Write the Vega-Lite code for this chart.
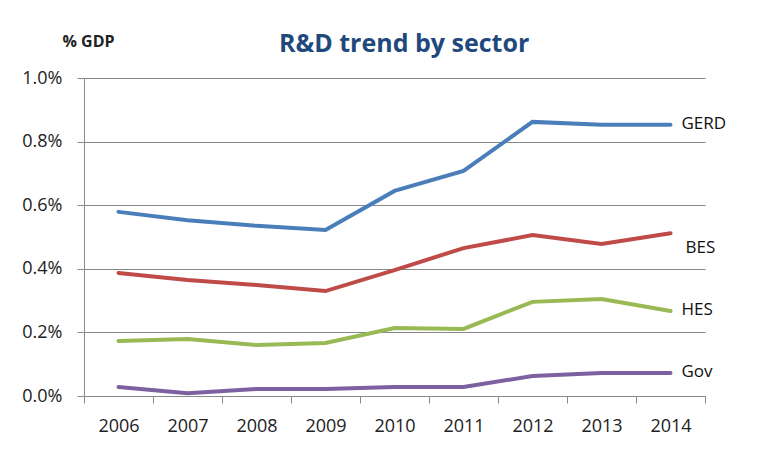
{
  "$schema": "https://vega.github.io/schema/vega-lite/v6.json",
  "width": 621,
  "height": 318,
  "autosize": {"type": "none"},
  "padding": {"left": 84, "top": 78, "right": 52, "bottom": 61},
  "background": "white",
  "config": {
    "view": {"stroke": null},
    "font": "Open Sans"
  },
  "title": {
    "text": "R&D trend by sector",
    "anchor": "start",
    "frame": "group",
    "dx": 195,
    "dy": 44,
    "offset": 0,
    "baseline": "alphabetic",
    "font": "Open Sans",
    "fontSize": 25,
    "fontWeight": "bold",
    "color": "#1F497D"
  },
  "data": {
    "values": [
      {"year": "2006", "sector": "GERD", "value": 0.00579},
      {"year": "2007", "sector": "GERD", "value": 0.00553},
      {"year": "2008", "sector": "GERD", "value": 0.00535},
      {"year": "2009", "sector": "GERD", "value": 0.00522},
      {"year": "2010", "sector": "GERD", "value": 0.00645},
      {"year": "2011", "sector": "GERD", "value": 0.00708},
      {"year": "2012", "sector": "GERD", "value": 0.00862},
      {"year": "2013", "sector": "GERD", "value": 0.00853},
      {"year": "2014", "sector": "GERD", "value": 0.00853},
      {"year": "2006", "sector": "BES", "value": 0.00387},
      {"year": "2007", "sector": "BES", "value": 0.00365},
      {"year": "2008", "sector": "BES", "value": 0.00349},
      {"year": "2009", "sector": "BES", "value": 0.0033},
      {"year": "2010", "sector": "BES", "value": 0.00396},
      {"year": "2011", "sector": "BES", "value": 0.00465},
      {"year": "2012", "sector": "BES", "value": 0.00506},
      {"year": "2013", "sector": "BES", "value": 0.00478},
      {"year": "2014", "sector": "BES", "value": 0.00512},
      {"year": "2006", "sector": "HES", "value": 0.00173},
      {"year": "2007", "sector": "HES", "value": 0.00179},
      {"year": "2008", "sector": "HES", "value": 0.0016},
      {"year": "2009", "sector": "HES", "value": 0.00167},
      {"year": "2010", "sector": "HES", "value": 0.00214},
      {"year": "2011", "sector": "HES", "value": 0.00211},
      {"year": "2012", "sector": "HES", "value": 0.00296},
      {"year": "2013", "sector": "HES", "value": 0.00305},
      {"year": "2014", "sector": "HES", "value": 0.00267},
      {"year": "2006", "sector": "Gov", "value": 0.00028},
      {"year": "2007", "sector": "Gov", "value": 0.00009},
      {"year": "2008", "sector": "Gov", "value": 0.00022},
      {"year": "2009", "sector": "Gov", "value": 0.00022},
      {"year": "2010", "sector": "Gov", "value": 0.00028},
      {"year": "2011", "sector": "Gov", "value": 0.00028},
      {"year": "2012", "sector": "Gov", "value": 0.00063},
      {"year": "2013", "sector": "Gov", "value": 0.00072},
      {"year": "2014", "sector": "Gov", "value": 0.00072}
    ]
  },
  "encoding": {
    "x": {
      "field": "year",
      "type": "ordinal",
      "scale": {"paddingInner": 0, "paddingOuter": 0},
      "axis": {
        "title": null,
        "labelAngle": 0,
        "tickBand": "extent",
        "tickSize": 7,
        "tickColor": "#888888",
        "domainColor": "#888888",
        "labelFont": "Open Sans",
        "labelFontSize": 18,
        "labelColor": "#222222",
        "labelPadding": 14,
        "grid": false
      }
    },
    "y": {
      "field": "value",
      "type": "quantitative",
      "scale": {"domain": [0, 0.01], "nice": false},
      "axis": {
        "values": [0, 0.002, 0.004, 0.006, 0.008, 0.01],
        "format": ".1%",
        "title": "% GDP",
        "titleAngle": 0,
        "titleX": -22,
        "titleY": -32,
        "titleAlign": "left",
        "titleBaseline": "alphabetic",
        "titleFont": "Open Sans",
        "titleFontSize": 16,
        "titleFontWeight": "bold",
        "titleColor": "#222222",
        "tickSize": 7,
        "tickColor": "#888888",
        "domainColor": "#888888",
        "gridColor": "#888888",
        "gridOpacity": 1,
        "labelFont": "Open Sans",
        "labelFontSize": 18,
        "labelColor": "#222222",
        "labelPadding": 15
      }
    },
    "color": {
      "field": "sector",
      "type": "nominal",
      "scale": {
        "domain": ["GERD", "BES", "HES", "Gov"],
        "range": ["#4A7EBB", "#BE4B48", "#98B954", "#7D60A0"]
      },
      "legend": null
    }
  },
  "layer": [
    {
      "mark": {"type": "line", "strokeWidth": 4, "strokeCap": "round"}
    },
    {
      "transform": [{"filter": "datum.year == '2014' && datum.sector != 'BES'"}],
      "mark": {"type": "text", "align": "left", "baseline": "middle", "dx": 11, "dy": -1, "fontSize": 17, "font": "Open Sans"},
      "encoding": {"text": {"field": "sector"}, "color": {"value": "#111111"}}
    },
    {
      "transform": [{"filter": "datum.year == '2014' && datum.sector == 'BES'"}],
      "mark": {"type": "text", "align": "left", "baseline": "middle", "dx": 15, "dy": 15, "fontSize": 17, "font": "Open Sans"},
      "encoding": {"text": {"field": "sector"}, "color": {"value": "#111111"}}
    }
  ]
}
